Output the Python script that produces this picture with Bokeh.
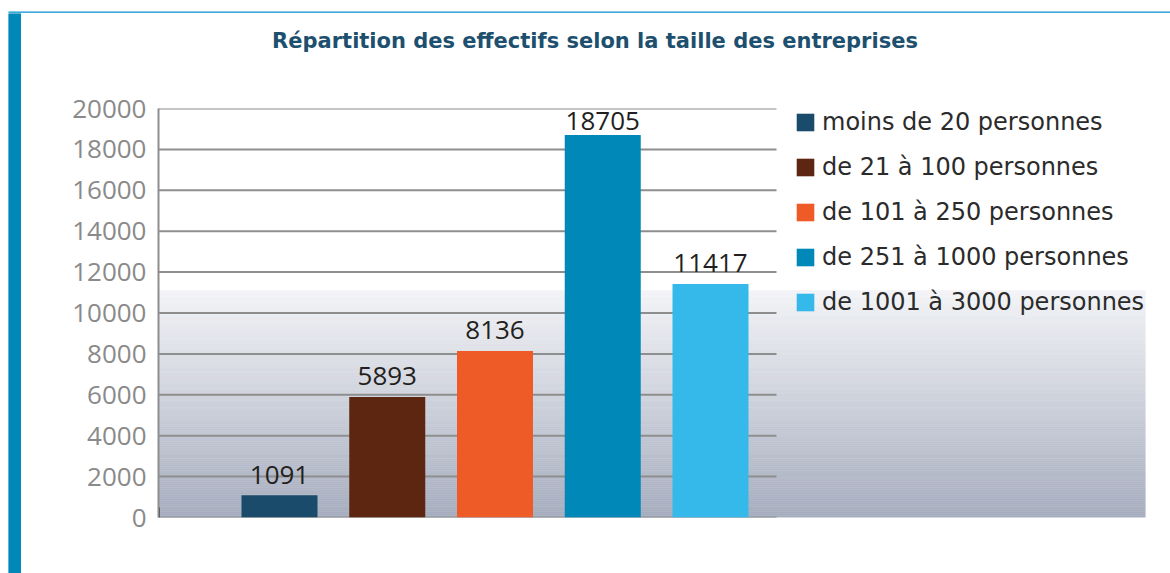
from bokeh.plotting import figure
from bokeh.models import ColumnDataSource, Range1d, FixedTicker, Legend, LegendItem
from bokeh.layouts import column, row
from bokeh.embed import file_html
from bokeh.resources import INLINE
from bokeh.core.properties import value

# ---------------- data ----------------
title_text = "Répartition des effectifs selon la taille des entreprises"
categories = [
    "moins de 20 personnes",
    "de 21 à 100 personnes",
    "de 101 à 250 personnes",
    "de 251 à 1000 personnes",
    "de 1001 à 3000 personnes",
]
effectifs = [1091, 5893, 8136, 18705, 11417]
bar_colors = ["#1a4b6b", "#5d2610", "#ef5b27", "#0088b8", "#35b9ea"]
y_ticks = [0, 2000, 4000, 6000, 8000, 10000, 12000, 14000, 16000, 18000, 20000]
y_max = 20000

# ---------------- layout constants (pixels) ----------------
UNIT = 107.75                    # px between bar centres
FRAME_W, FRAME_H = 987, 409
x_start = -121 / UNIT
x_end = x_start + FRAME_W / UNIT
area_end = (len(categories) - 1) + 66 / UNIT
GRAD_TOP = 11100                 # where the grey gradient fades to white (data units)
BASE_SHIFT = 0.41                # empirical baseline correction (em)

n = len(categories)
xs = list(range(n))

# label offsets: 10px gap above bar, less if too close to the top of the plot
LABEL_FS = 26
label_offsets = []
for v in effectifs:
    space = (y_max - v) / y_max * FRAME_H
    gap = min(10.0, space - 23.0)
    label_offsets.append(-(gap + BASE_SHIFT * LABEL_FS))

# ---------------- main chart ----------------
p = figure(
    width=1149, height=490,
    x_range=Range1d(x_start, x_end), y_range=Range1d(0, y_max),
    output_backend="svg", toolbar_location=None,
    min_border_left=137, min_border_right=25, min_border_top=25, min_border_bottom=56,
    x_axis_location=None,
)
p.grid.visible = False
p.outline_line_color = None
p.background_fill_color = "white"
p.border_fill_color = "white"

# gradient background
nstrip = 120
c_bot = (166, 173, 190)
c_top = (243, 244, 247)
g_bottoms, g_tops, g_cols = [], [], []
for k in range(nstrip):
    t = (k + 0.5) / nstrip
    col = tuple(int(round(c_bot[i] + (c_top[i] - c_bot[i]) * t)) for i in range(3))
    g_bottoms.append(GRAD_TOP * k / nstrip)
    g_tops.append(GRAD_TOP * (k + 1) / nstrip)
    g_cols.append("#%02x%02x%02x" % col)
p.quad(left=x_start, right=x_end, bottom=g_bottoms, top=g_tops,
       fill_color=g_cols, line_color=g_cols, line_width=0.6)

# horizontal grid lines (plot area only)
p.segment(x0=x_start, x1=area_end, y0=y_ticks, y1=y_ticks,
          line_color="#8e8e8e", line_width=2)
# small dark mark at the foot of the axis
p.segment(x0=[x_start], x1=[x_start], y0=[0], y1=[y_max * 10 / FRAME_H],
          line_color="#333333", line_width=3)

src = ColumnDataSource(dict(
    x=xs, top=effectifs, color=bar_colors, label=categories,
    txt=[str(v) for v in effectifs], yoff=label_offsets,
))
bars = p.vbar(x="x", top="top", width=76 / UNIT, fill_color="color",
              line_color=None, source=src)

p.text(x="x", y="top", text="txt", source=src, text_align="center",
       text_baseline="alphabetic", y_offset="yoff",
       text_font=value("Open Sans"), text_font_size=f"{LABEL_FS}px", text_color="#231f20")

ax = p.yaxis[0]
ax.ticker = FixedTicker(ticks=y_ticks)
ax.major_label_text_font = "Open Sans"
ax.major_label_text_font_size = "26px"
ax.major_label_text_color = "#8a8a8a"
ax.axis_line_color = "#8e8e8e"
ax.axis_line_width = 2
ax.major_tick_out = 0
ax.major_tick_in = 0
ax.minor_tick_out = 0
ax.minor_tick_in = 0
ax.major_label_standoff = 12

legend = Legend(
    items=[LegendItem(label=c, renderers=[bars], index=i) for i, c in enumerate(categories)],
    location=(636, 201),
    glyph_width=22, glyph_height=22,
    label_text_font="DejaVu Sans", label_text_font_size="24px",
    label_text_color="#2b2b2b",
    label_standoff=6, spacing=17, padding=0, margin=0,
    border_line_color=None, background_fill_alpha=0,
)
p.add_layout(legend)

# ---------------- header (title) ----------------
HEADER_H = 70
TITLE_FS = 21
title_frac = (594.5 - 158) / FRAME_W      # title centre, relative to the plot frame
title_y = HEADER_H - (36 - BASE_SHIFT * TITLE_FS)
header = figure(
    width=1149, height=HEADER_H, x_range=Range1d(0, 1), y_range=Range1d(0, HEADER_H),
    output_backend="svg", toolbar_location=None,
    min_border_left=137, min_border_right=25, min_border_top=0, min_border_bottom=0,
    x_axis_location=None, y_axis_location=None,
)
header.grid.visible = False
header.outline_line_color = None
header.text(x=[title_frac], y=[title_y], text=[title_text], text_align="center",
            text_baseline="alphabetic", text_font=value("DejaVu Sans"),
            text_font_style="bold", text_font_size=f"{TITLE_FS}px", text_color="#1d4f6e")

# ---------------- decorations: top rule + left bar ----------------
top_rule = figure(
    width=1170, height=13, output_backend="svg", toolbar_location=None,
    x_range=Range1d(0, 1), y_range=Range1d(0, 1),
    min_border_left=8, min_border_right=0, min_border_top=11, min_border_bottom=0,
    x_axis_location=None, y_axis_location=None,
)
top_rule.grid.visible = False
top_rule.outline_line_color = None
top_rule.background_fill_color = "#3fa9dc"
top_rule.quad(left=[0], right=[1], bottom=[0], top=[1],
              fill_color="#3fa9dc", line_color=None)

left_bar = figure(
    width=21, height=560, output_backend="svg", toolbar_location=None,
    x_range=Range1d(0, 1), y_range=Range1d(0, 1),
    min_border_left=8, min_border_right=0, min_border_top=0, min_border_bottom=0,
    x_axis_location=None, y_axis_location=None,
)
left_bar.grid.visible = False
left_bar.outline_line_color = None
left_bar.background_fill_color = "#0088b8"
left_bar.quad(left=[0], right=[1], bottom=[0], top=[1],
              fill_color="#0088b8", line_color=None)

layout = column(top_rule, row(left_bar, column(header, p)))

open("out.html", "w").write(file_html(layout, INLINE))
